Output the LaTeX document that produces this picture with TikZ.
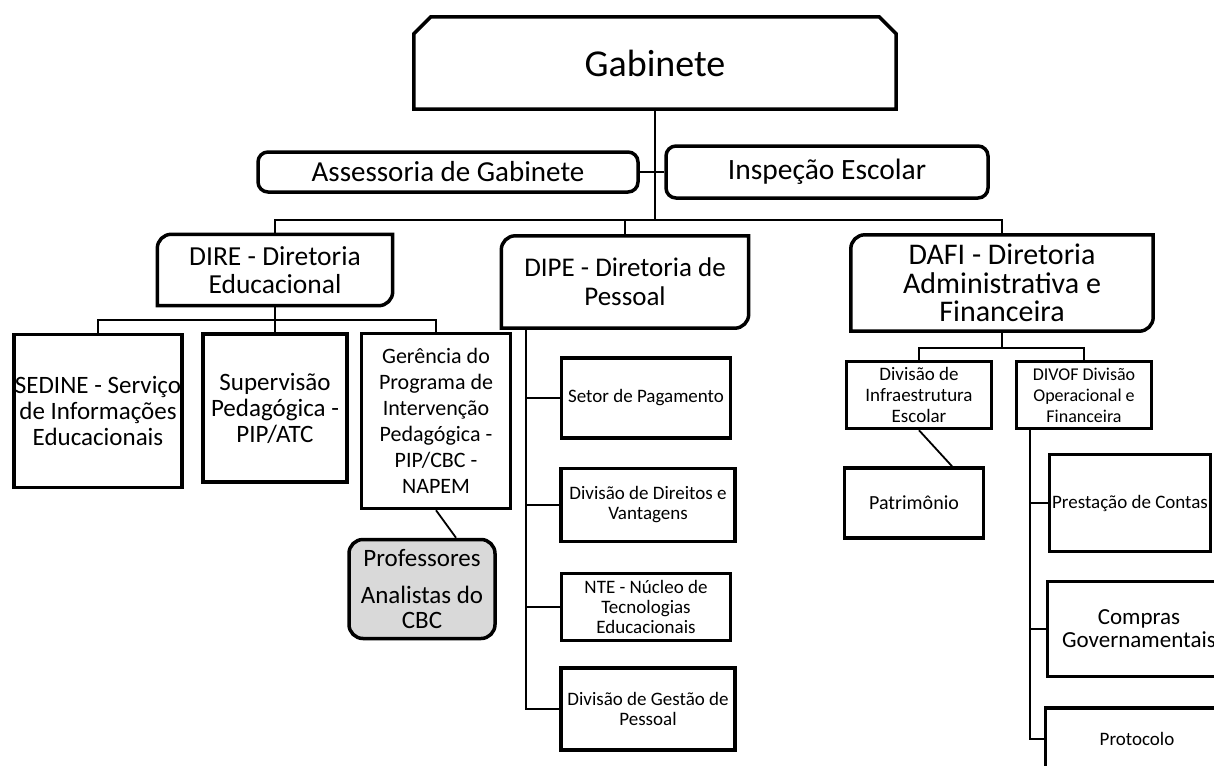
\documentclass[tikz,border=0pt]{standalone}
\usepackage{fontspec}
\setmainfont{Carlito}
\begin{document}
\begin{tikzpicture}
      [x=1pt, y=-1pt,
      txt/.style 2 args={font=\fontsize{#1}{#2}\selectfont},
      unit/.style={draw, line width=3.5pt, fill=white, inner sep=0pt, align=center},
      roundunit/.style={unit, rounded corners=10pt},
      plainunit/.style={inner sep=0pt, align=center},
      link/.style={line width=1.8pt}]
      \useasboundingbox (0,0) rectangle (1214,765);
      \node[plainunit, minimum width=482, minimum height=92, txt={38}{44}] (gab) at (655,63) {Gabinete};
      \node[roundunit, minimum width=380, minimum height=40, txt={29}{32}] (asse) at (448,172) {Assessoria de Gabinete};
      \node[roundunit, minimum width=322, minimum height=52, txt={29.5}{32}] (insp) at (827,172) {Inspeção Escolar};
      \node[plainunit, minimum width=235, minimum height=71, txt={27.5}{28}] (dire) at (275,270) {DIRE - Diretoria\\Educacional};
      \node[plainunit, minimum width=247, minimum height=92, txt={27}{29}] (dipe) at (625,282) {DIPE - Diretoria de\\Pessoal};
      \node[plainunit, minimum width=302, minimum height=96, txt={30}{28.5}] (dafi) at (1002,283) {DAFI - Diretoria\\Administrativa e\\Financeira};
      \node[unit, minimum width=168, minimum height=153, txt={25}{26}] (sedine) at (98,411) {SEDINE - Serviço\\de Informações\\Educacionais};
      \node[unit, minimum width=144, minimum height=148, txt={25}{26}] (superv) at (275,408) {Supervisão\\Pedagógica -\\PIP/ATC};
      \node[unit, minimum width=149, minimum height=175, txt={22}{26}] (ger) at (436,421) {Gerência do\\Programa de\\Intervenção\\Pedagógica -\\PIP/CBC -\\NAPEM};
      \node[unit, rounded corners=14pt, fill=black!15, minimum width=146, minimum height=99, txt={25}{25}] (prof) at (422,589) {Professores\\[12pt]Analistas do\\CBC};
      \node[unit, minimum width=169, minimum height=80, txt={19}{21}] (setor) at (646,398) {Setor de Pagamento};
      \node[unit, minimum width=174, minimum height=73, txt={19}{20}] (direitos) at (648,505) {Divisão de Direitos e\\Vantagens};
      \node[unit, minimum width=169, minimum height=67, txt={19}{20}] (nte) at (646,607) {NTE - Núcleo de\\Tecnologias\\Educacionais};
      \node[unit, minimum width=174, minimum height=82, txt={19}{20}] (gestao) at (648,709) {Divisão de Gestão de\\Pessoal};
      \node[unit, minimum width=145, minimum height=67, txt={19}{21}] (infra) at (919,395) {Divisão de\\Infraestrutura\\Escolar};
      \node[unit, minimum width=135, minimum height=67, txt={18}{21}] (divof) at (1084,395) {DIVOF Divisão\\Operacional e\\Financeira};
      \node[unit, minimum width=139, minimum height=70, txt={20}{21}] (patr) at (914,503) {Patrimônio};
      \node[unit, minimum width=161, minimum height=97, txt={19}{21}] (prest) at (1130,503) {Prestação de Contas};
      \node[unit, minimum width=183, minimum height=95, txt={23}{23}] (compras) at (1139,629) {Compras\\Governamentais};
      \node[unit, minimum width=183, minimum height=62, txt={19}{21}] (proto) at (1137,739) {Protocolo};
      \draw[line width=3.5pt] (gab.south west) -- ([yshift=-17pt]gab.north west) -- ([xshift=17pt]gab.north west)
        -- ([xshift=-17pt]gab.north east) -- ([yshift=-17pt]gab.north east) -- (gab.south east) -- cycle;
      \foreach \n in {dire,dipe,dafi}
        \draw[line width=3.5pt] (\n.north) -- (\n.north east) [rounded corners=14pt] -- (\n.south east)
          [sharp corners] -- (\n.south west) [rounded corners=14pt] -- (\n.north west) [sharp corners] -- cycle;
      \coordinate (top) at (655,220);
      \draw[link] (gab.south) -- (top);
      \draw[link] (asse.east) -- (insp.west);
      \draw[link] (dire.north) |- (top) -| (dafi.north);
      \draw[link] (dipe.north) -- (dipe.north |- top);
      \coordinate (direbus) at (275,320);
      \draw[link] (dire.south) -- (superv.north);
      \draw[link] (sedine.north) |- (direbus) -| (ger.north);
      \draw[link] (ger.south) -- ([xshift=34pt]prof.north);
      \coordinate (dipeline) at ([xshift=25pt]dipe.south west);
      \draw[link] (dipeline) |- (gestao.west);
      \foreach \n in {setor,direitos,nte}
        \draw[link] (\n.west) -- (\n.west -| dipeline);
      \coordinate (dafibus) at (1002,348);
      \draw[link] (dafi.south) -- (dafibus);
      \draw[link] (infra.north) |- (dafibus) -| (divof.north);
      \draw[link] (infra.south) -- ([xshift=38pt]patr.north);
      \coordinate (divofline) at ([xshift=15pt]divof.south west);
      \draw[link] (divofline) |- (proto.west);
      \foreach \n in {prest,compras}
        \draw[link] (\n.west) -- (\n.west -| divofline);
    \end{tikzpicture}
\end{document}
